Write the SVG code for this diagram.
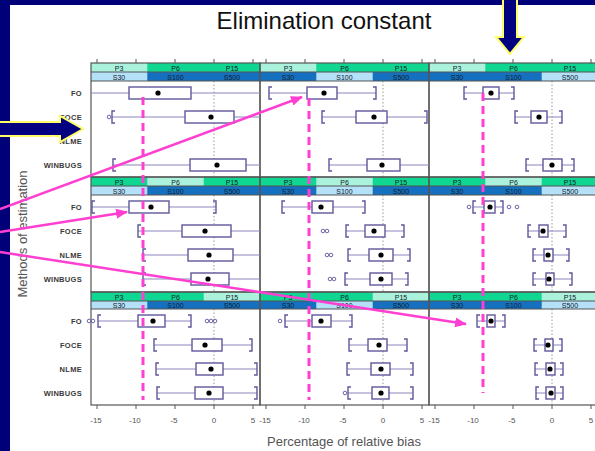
<svg xmlns="http://www.w3.org/2000/svg" width="595" height="451" viewBox="0 0 595 451">
  <style>
    text { font-family: "Liberation Sans", Arial, sans-serif; }
    .title { font-size: 24px; fill: #111; }
    .axis { font-size: 13px; fill: #555; }
    .tick { font-size: 8px; fill: #555; }
    .row { font-size: 7.5px; font-weight: bold; fill: #3a3a3a; letter-spacing: 0.3px; }
    .st { font-size: 7px; fill: #10202e; }
    .tk { stroke: #555; stroke-width: 1; }
    .frame { fill: none; stroke: #555; stroke-width: 1.2; }
    .pg { fill: #0fd690; }
    .pp { fill: #aaf2dc; }
    .sd { fill: #1571bf; }
    .sp { fill: #b4e1f8; }
    .zero { stroke: #999; stroke-width: 1; stroke-dasharray: 1.5 2; }
    .wh { stroke: #8c86c0; stroke-width: 1.2; fill: none; }
    .cap { stroke: #5f579c; stroke-width: 1.4; fill: none; }
    .bx { fill: #fff; stroke: #5f579c; stroke-width: 1.4; }
    .md { fill: #000; }
    .ol { fill: none; stroke: #6e66a8; stroke-width: 1; }
    .ref { stroke: #ff3fd2; stroke-width: 3; stroke-dasharray: 8 5; fill: none; }
    .con { stroke: #ff3fd2; stroke-width: 2.5; fill: none; }
    .big { fill: #000080; stroke: #ffff66; stroke-width: 2; stroke-linejoin: miter; }
  </style>
  <defs>
    <marker id="head" markerUnits="userSpaceOnUse" markerWidth="12" markerHeight="10" refX="11" refY="5" orient="auto">
      <path d="M0,0 L12,5 L0,10 z" fill="#ff3fd2"/>
    </marker>
  </defs>

  <!-- slide background -->
  <rect x="0" y="0" width="595" height="451" fill="#000078"/>
  <rect x="10" y="5" width="585" height="446" fill="#fff"/>

  <text class="title" x="324" y="29" text-anchor="middle">Elimination constant</text>

  <!-- axis titles -->
  <text class="axis" x="344" y="446" text-anchor="middle">Percentage of relative bias</text>
  <text class="axis" transform="translate(27,234) rotate(-90)" text-anchor="middle">Methods of estimation</text>

  <!-- tick marks and labels -->
  <g id="ticks">
    <path class="tk" d="M97,59V63M136,59V63M175,59V63M214,59V63M253,59V63M266,59V63M305,59V63M344,59V63M383,59V63M422,59V63M435,59V63M474,59V63M513,59V63M552,59V63M591,59V63"/>
    <path class="tk" d="M97,405V409M136,405V409M175,405V409M214,405V409M253,405V409M266,405V409M305,405V409M344,405V409M383,405V409M422,405V409M435,405V409M474,405V409M513,405V409M552,405V409M591,405V409"/>
    <g class="tick" text-anchor="middle">
      <text x="96" y="423">-15</text><text x="135" y="423">-10</text><text x="174" y="423">-5</text><text x="214" y="423">0</text><text x="253" y="423">5</text>
      <text x="265" y="423">-15</text><text x="304" y="423">-10</text><text x="343" y="423">-5</text><text x="383" y="423">0</text><text x="422" y="423">5</text>
      <text x="434" y="423">-15</text><text x="473" y="423">-10</text><text x="512" y="423">-5</text><text x="552" y="423">0</text><text x="591" y="423">5</text>
    </g>
  </g>

  <!-- method labels -->
  <g id="row-labels" class="row" text-anchor="end">
    <text x="82" y="96">FO</text><text x="82" y="120">FOCE</text><text x="82" y="144">NLME</text><text x="82" y="168">WINBUGS</text>
    <text x="82" y="210">FO</text><text x="82" y="234">FOCE</text><text x="82" y="258">NLME</text><text x="82" y="282">WINBUGS</text>
    <text x="82" y="324">FO</text><text x="82" y="348">FOCE</text><text x="82" y="372">NLME</text><text x="82" y="396">WINBUGS</text>
  </g>

  <!-- strips: P row (green) and S row (blue), current level shaded pale -->
  <g id="strip-1">
    <rect class="pg" x="91" y="63" width="507" height="9"/>
    <rect class="sd" x="91" y="72" width="507" height="9"/>
    <rect class="pp" x="91" y="63" width="56.3" height="9"/>
    <rect class="pp" x="260" y="63" width="56.3" height="9"/>
    <rect class="pp" x="429" y="63" width="56.3" height="9"/>
    <rect class="sp" x="91" y="72" width="56.3" height="9"/>
    <rect class="sp" x="316.3" y="72" width="56.4" height="9"/>
    <rect class="sp" x="541.7" y="72" width="56.3" height="9"/>
  </g>
  <g id="strip-2">
    <rect class="pg" x="91" y="177" width="507" height="9"/>
    <rect class="sd" x="91" y="186" width="507" height="9"/>
    <rect class="pp" x="147.3" y="177" width="56.4" height="9"/>
    <rect class="pp" x="316.3" y="177" width="56.4" height="9"/>
    <rect class="pp" x="485.3" y="177" width="56.4" height="9"/>
    <rect class="sp" x="91" y="186" width="56.3" height="9"/>
    <rect class="sp" x="316.3" y="186" width="56.4" height="9"/>
    <rect class="sp" x="541.7" y="186" width="56.3" height="9"/>
  </g>
  <g id="strip-3">
    <rect class="pg" x="91" y="292" width="507" height="9"/>
    <rect class="sd" x="91" y="301" width="507" height="8"/>
    <rect class="pp" x="203.7" y="292" width="56.3" height="9"/>
    <rect class="pp" x="372.7" y="292" width="56.3" height="9"/>
    <rect class="pp" x="541.7" y="292" width="56.3" height="9"/>
    <rect class="sp" x="91" y="301" width="56.3" height="8"/>
    <rect class="sp" x="316.3" y="301" width="56.4" height="8"/>
    <rect class="sp" x="541.7" y="301" width="56.3" height="8"/>
  </g>
  <g id="strip-text" class="st" text-anchor="middle">
    <text x="119" y="70.5">P3</text><text x="175.5" y="70.5">P6</text><text x="232" y="70.5">P15</text>
    <text x="288" y="70.5">P3</text><text x="344.5" y="70.5">P6</text><text x="401" y="70.5">P15</text>
    <text x="457" y="70.5">P3</text><text x="513.5" y="70.5">P6</text><text x="570" y="70.5">P15</text>
    <text x="119" y="79.5">S30</text><text x="175.5" y="79.5">S100</text><text x="232" y="79.5">S500</text>
    <text x="288" y="79.5">S30</text><text x="344.5" y="79.5">S100</text><text x="401" y="79.5">S500</text>
    <text x="457" y="79.5">S30</text><text x="513.5" y="79.5">S100</text><text x="570" y="79.5">S500</text>
    <text x="119" y="184.5">P3</text><text x="175.5" y="184.5">P6</text><text x="232" y="184.5">P15</text>
    <text x="288" y="184.5">P3</text><text x="344.5" y="184.5">P6</text><text x="401" y="184.5">P15</text>
    <text x="457" y="184.5">P3</text><text x="513.5" y="184.5">P6</text><text x="570" y="184.5">P15</text>
    <text x="119" y="193.5">S30</text><text x="175.5" y="193.5">S100</text><text x="232" y="193.5">S500</text>
    <text x="288" y="193.5">S30</text><text x="344.5" y="193.5">S100</text><text x="401" y="193.5">S500</text>
    <text x="457" y="193.5">S30</text><text x="513.5" y="193.5">S100</text><text x="570" y="193.5">S500</text>
    <text x="119" y="299.5">P3</text><text x="175.5" y="299.5">P6</text><text x="232" y="299.5">P15</text>
    <text x="288" y="299.5">P3</text><text x="344.5" y="299.5">P6</text><text x="401" y="299.5">P15</text>
    <text x="457" y="299.5">P3</text><text x="513.5" y="299.5">P6</text><text x="570" y="299.5">P15</text>
    <text x="119" y="308">S30</text><text x="175.5" y="308">S100</text><text x="232" y="308">S500</text>
    <text x="288" y="308">S30</text><text x="344.5" y="308">S100</text><text x="401" y="308">S500</text>
    <text x="457" y="308">S30</text><text x="513.5" y="308">S100</text><text x="570" y="308">S500</text>
  </g>

  <!-- zero reference lines -->
  <path class="zero" d="M214,81V177M383,81V177M552,81V177M214,195V292M383,195V292M552,195V292M214,309V405M383,309V405M552,309V405"/>

  <!-- panel frames -->
  <g id="frames">
    <rect class="frame" x="91" y="63" width="169" height="114"/>
    <rect class="frame" x="260" y="63" width="169" height="114"/>
    <rect class="frame" x="429" y="63" width="169" height="114"/>
    <rect class="frame" x="91" y="177" width="169" height="115"/>
    <rect class="frame" x="260" y="177" width="169" height="115"/>
    <rect class="frame" x="429" y="177" width="169" height="115"/>
    <rect class="frame" x="91" y="292" width="169" height="113"/>
    <rect class="frame" x="260" y="292" width="169" height="113"/>
    <rect class="frame" x="429" y="292" width="169" height="113"/>
    <path class="frame" d="M91,72H598M91,81H598M91,186H598M91,195H598M91,301H598M91,309H598"/>
  </g>

  <!-- row 1 panels -->
  <g id="panel-r1c1">
    <path class="wh" d="M91,93H129M191,93H260"/>
    <rect class="bx" x="129" y="87" width="62" height="12"/><circle class="md" cx="158" cy="93" r="2.6"/>
    <circle class="ol" cx="109" cy="117" r="1.8"/>
    <path class="wh" d="M112,117H185M234,117H260"/><path class="cap" d="M115,111H112V123H115"/>
    <rect class="bx" x="185" y="111" width="49" height="12"/><circle class="md" cx="211" cy="117" r="2.6"/>
    <path class="wh" d="M113,165H190M246,165H260"/><path class="cap" d="M116,159H113V171H116"/>
    <rect class="bx" x="190" y="159" width="56" height="12"/><circle class="md" cx="217" cy="165" r="2.6"/>
  </g>
  <g id="panel-r1c2">
    <path class="wh" d="M269,93H307M337,93H376"/><path class="cap" d="M272,87H269V99H272M373,87H376V99H373"/>
    <rect class="bx" x="307" y="87" width="30" height="12"/><circle class="md" cx="324" cy="93" r="2.6"/>
    <path class="wh" d="M322,117H356M387,117H427"/><path class="cap" d="M325,111H322V123H325M424,111H427V123H424"/>
    <rect class="bx" x="356" y="111" width="31" height="12"/><circle class="md" cx="374" cy="117" r="2.6"/>
    <path class="wh" d="M329,165H367M400,165H429"/><path class="cap" d="M332,159H329V171H332"/>
    <rect class="bx" x="367" y="159" width="33" height="12"/><circle class="md" cx="382" cy="165" r="2.6"/>
  </g>
  <g id="panel-r1c3">
    <path class="wh" d="M464,93H483M499,93H514"/><path class="cap" d="M467,87H464V99H467M511,87H514V99H511"/>
    <rect class="bx" x="483" y="87" width="16" height="12"/><circle class="md" cx="491" cy="93" r="2.6"/>
    <path class="wh" d="M515,117H531M547,117H562"/><path class="cap" d="M518,111H515V123H518M559,111H562V123H559"/>
    <rect class="bx" x="531" y="111" width="16" height="12"/><circle class="md" cx="539" cy="117" r="2.6"/>
    <path class="wh" d="M526,165H543M562,165H574"/><path class="cap" d="M529,159H526V171H529M571,159H574V171H571"/>
    <rect class="bx" x="543" y="159" width="19" height="12"/><circle class="md" cx="552" cy="165" r="2.6"/>
  </g>

  <!-- row 2 panels -->
  <g id="panel-r2c1">
    <path class="wh" d="M92,207H129M169,207H216"/><path class="cap" d="M95,201H92V213H95M213,201H216V213H213"/>
    <rect class="bx" x="129" y="201" width="40" height="12"/><circle class="md" cx="151" cy="207" r="2.6"/>
    <path class="wh" d="M138,231H182M231,231H260"/><path class="cap" d="M141,225H138V237H141"/>
    <rect class="bx" x="182" y="225" width="49" height="12"/><circle class="md" cx="205" cy="231" r="2.6"/>
    <path class="wh" d="M143,255H188M233,255H260"/><path class="cap" d="M146,249H143V261H146"/>
    <rect class="bx" x="188" y="249" width="45" height="12"/><circle class="md" cx="209" cy="255" r="2.6"/>
    <path class="wh" d="M143,279H191M229,279H260"/><path class="cap" d="M146,273H143V285H146"/>
    <rect class="bx" x="191" y="273" width="38" height="12"/><circle class="md" cx="208" cy="279" r="2.6"/>
  </g>
  <g id="panel-r2c2">
    <path class="wh" d="M282,207H312M333,207H365"/><path class="cap" d="M285,201H282V213H285M362,201H365V213H362"/>
    <rect class="bx" x="312" y="201" width="21" height="12"/><circle class="md" cx="321" cy="207" r="2.6"/>
    <circle class="ol" cx="323" cy="231" r="1.8"/><circle class="ol" cx="327" cy="231" r="1.8"/>
    <path class="wh" d="M346,231H365M385,231H404"/><path class="cap" d="M349,225H346V237H349M401,225H404V237H401"/>
    <rect class="bx" x="365" y="225" width="20" height="12"/><circle class="md" cx="374" cy="231" r="2.6"/>
    <circle class="ol" cx="327" cy="255" r="1.8"/><circle class="ol" cx="331" cy="255" r="1.8"/>
    <path class="wh" d="M348,255H369M393,255H410"/><path class="cap" d="M351,249H348V261H351M407,249H410V261H407"/>
    <rect class="bx" x="369" y="249" width="24" height="12"/><circle class="md" cx="381" cy="255" r="2.6"/>
    <circle class="ol" cx="330" cy="279" r="1.8"/><circle class="ol" cx="334" cy="279" r="1.8"/>
    <path class="wh" d="M345,279H370M392,279H408"/><path class="cap" d="M348,273H345V285H348M405,273H408V285H405"/>
    <rect class="bx" x="370" y="273" width="22" height="12"/><circle class="md" cx="381" cy="279" r="2.6"/>
  </g>
  <g id="panel-r2c3">
    <circle class="ol" cx="469" cy="207" r="1.8"/><circle class="ol" cx="509" cy="207" r="1.8" stroke-width="1.5"/><circle class="ol" cx="517" cy="207" r="1.8"/>
    <path class="wh" d="M473,207H484M495,207H503"/><path class="cap" d="M476,201H473V213H476M500,201H503V213H500"/>
    <rect class="bx" x="484" y="201" width="11" height="12"/><circle class="md" cx="490" cy="207" r="2.6"/>
    <path class="wh" d="M528,231H539M548,231H566"/><path class="cap" d="M531,225H528V237H531M563,225H566V237H563"/>
    <rect class="bx" x="539" y="225" width="9" height="12"/><circle class="md" cx="543" cy="231" r="2.6"/>
    <path class="wh" d="M533,255H544M553,255H569"/><path class="cap" d="M536,249H533V261H536M566,249H569V261H566"/>
    <rect class="bx" x="544" y="249" width="9" height="12"/><circle class="md" cx="548" cy="255" r="2.6"/>
    <path class="wh" d="M533,279H546M554,279H572"/><path class="cap" d="M536,273H533V285H536M569,273H572V285H569"/>
    <rect class="bx" x="546" y="273" width="8" height="12"/><circle class="md" cx="549" cy="279" r="2.6"/>
  </g>

  <!-- row 3 panels -->
  <g id="panel-r3c1">
    <circle class="ol" cx="89" cy="321" r="1.8"/><circle class="ol" cx="93" cy="321" r="1.8"/>
    <path class="wh" d="M98,321H138M165,321H191"/><path class="cap" d="M101,315H98V327H101M188,315H191V327H188"/>
    <rect class="bx" x="138" y="315" width="27" height="12"/><circle class="md" cx="153" cy="321" r="2.6"/>
    <circle class="ol" cx="207" cy="321" r="1.8"/><circle class="ol" cx="211" cy="321" r="1.8"/><circle class="ol" cx="215" cy="321" r="1.8"/>
    <path class="wh" d="M154,345H192M222,345H252"/><path class="cap" d="M157,339H154V351H157M249,339H252V351H249"/>
    <rect class="bx" x="192" y="339" width="30" height="12"/><circle class="md" cx="205" cy="345" r="2.6"/>
    <path class="wh" d="M156,369H196M223,369H257"/><path class="cap" d="M159,363H156V375H159M254,363H257V375H254"/>
    <rect class="bx" x="196" y="363" width="27" height="12"/><circle class="md" cx="211" cy="369" r="2.6"/>
    <path class="wh" d="M157,393H195M223,393H257"/><path class="cap" d="M160,387H157V399H160M254,387H257V399H254"/>
    <rect class="bx" x="195" y="387" width="28" height="12"/><circle class="md" cx="209" cy="393" r="2.6"/>
  </g>
  <g id="panel-r3c2">
    <circle class="ol" cx="280" cy="321" r="1.8"/>
    <path class="wh" d="M285,321H312M331,321H352"/><path class="cap" d="M288,315H285V327H288M349,315H352V327H349"/>
    <rect class="bx" x="312" y="315" width="19" height="12"/><circle class="md" cx="321" cy="321" r="2.6"/>
    <path class="wh" d="M349,345H368M387,345H407"/><path class="cap" d="M352,339H349V351H352M404,339H407V351H404"/>
    <rect class="bx" x="368" y="339" width="19" height="12"/><circle class="md" cx="379" cy="345" r="2.6"/>
    <path class="wh" d="M347,369H371M390,369H413"/><path class="cap" d="M350,363H347V375H350M410,363H413V375H410"/>
    <rect class="bx" x="371" y="363" width="19" height="12"/><circle class="md" cx="381" cy="369" r="2.6"/>
    <circle class="ol" cx="345" cy="393" r="1.8"/>
    <path class="wh" d="M348,393H372M389,393H413"/><path class="cap" d="M351,387H348V399H351M410,387H413V399H410"/>
    <rect class="bx" x="372" y="387" width="17" height="12"/><circle class="md" cx="381" cy="393" r="2.6"/>
  </g>
  <g id="panel-r3c3">
    <path class="wh" d="M477,321H487M495,321H505"/><path class="cap" d="M480,315H477V327H480M502,315H505V327H502"/>
    <rect class="bx" x="487" y="315" width="8" height="12"/><circle class="md" cx="491" cy="321" r="2.6"/>
    <path class="wh" d="M534,345H545M553,345H562"/><path class="cap" d="M537,339H534V351H537M559,339H562V351H559"/>
    <rect class="bx" x="545" y="339" width="8" height="12"/><circle class="md" cx="548" cy="345" r="2.6"/>
    <path class="wh" d="M535,369H546M555,369H563"/><path class="cap" d="M538,363H535V375H538M560,363H563V375H560"/>
    <rect class="bx" x="546" y="363" width="9" height="12"/><circle class="md" cx="550" cy="369" r="2.6"/>
    <path class="wh" d="M536,393H546M555,393H563"/><path class="cap" d="M539,387H536V399H539M560,387H563V399H560"/>
    <rect class="bx" x="546" y="387" width="9" height="12"/><circle class="md" cx="551" cy="393" r="2.6"/>
  </g>

  <!-- dashed reference lines -->
  <g id="references">
    <path class="ref" d="M143,97V400"/>
    <path class="ref" d="M309,98V400"/>
    <path class="ref" d="M483,93V393"/>
  </g>

  <!-- pointer arrows -->
  <g id="connectors">
    <path class="con" d="M0,209L302,97" marker-end="url(#head)"/>
    <path class="con" d="M0,232L127,212" marker-end="url(#head)"/>
    <path class="con" d="M0,252L466,324" marker-end="url(#head)"/>
  </g>

  <!-- block arrows -->
  <g id="arrow-left">
    <polygon class="big" points="-3,122 60,122 60,116 83,129 60,142 60,136 -3,136"/>
  </g>
  <g id="arrow-top">
    <polygon class="big" points="503,-3 517,-3 517,37 524,37 510,54 496,37 503,37"/>
  </g>
</svg>
